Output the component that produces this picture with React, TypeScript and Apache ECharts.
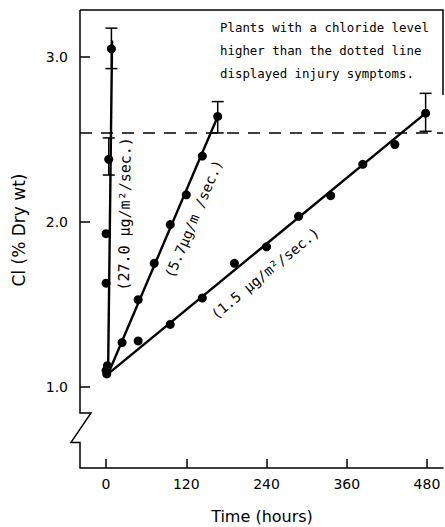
import React, { useEffect, useRef } from "react";
import * as echarts from "echarts";

// ---- axis ticks ----
const xTicks = [0, 120, 240, 360, 480];
const yTicks = [1.0, 2.0, 3.0];

// ---- 27.0 µg/m²/sec exposure ----
const hours27 = [2, 0, 0, 4, 8];
const cl27 = [1.13, 1.63, 1.93, 2.38, 3.05];

// ---- 5.7 µg/m²/sec exposure ----
const hours57 = [0, 24, 48, 72, 96, 120, 144, 167];
const cl57 = [1.1, 1.27, 1.53, 1.75, 1.985, 2.165, 2.4, 2.64];

// ---- 1.5 µg/m²/sec exposure ----
const hours15 = [1, 48, 96, 144, 192, 240, 288, 336, 384, 432, 478];
const cl15 = [1.08, 1.28, 1.38, 1.54, 1.75, 1.85, 2.035, 2.16, 2.35, 2.47, 2.66];

// ---- fitted lines (start / end) ----
const fit27Hours = [3, 9];
const fit27Cl = [1.08, 3.1];
const fit57Hours = [3, 167];
const fit57Cl = [1.08, 2.64];
const fit15Hours = [3, 478];
const fit15Cl = [1.08, 2.66];

// ---- error bars ----
const errHours = [8, 4, 167, 478];
const errLow = [2.93, 2.285, 2.54, 2.55];
const errHigh = [3.175, 2.51, 2.73, 2.78];

// ---- injury threshold ----
const injuryLevel = 2.535;

// ---- texts ----
const rateLabels = ["(27.0 µg/m²/sec.)", "(5.7µg/m /sec.)", "(1.5 µg/m²/sec.)"];
const noteLines = [
  "Plants with a chloride level",
  "higher than the dotted line",
  "displayed injury symptoms.",
];
const xTitle = "Time (hours)";
const yTitle = "Cl (% Dry wt)";

// axis extents
const xMin = -39;
const xMax = 504;
const yMin = 0.51;
const yMax = 3.285;

const zip = (a: number[], b: number[]) => a.map((v, i) => [v, b[i]]);

export default function App() {
  const ref = useRef<HTMLDivElement>(null);
  useEffect(() => {
    if (!ref.current) return;
    const chart = echarts.init(ref.current, null, { renderer: "svg" });
    const black = "#000";
    const tickFont = "DejaVu Sans";
    const scatterBase = {
      type: "scatter",
      symbol: "circle",
      symbolSize: 9,
      itemStyle: { color: black, opacity: 1 },
      z: 5,
    };
    const lineBase = {
      type: "line",
      symbol: "none",
      lineStyle: { color: black, width: 2.4 },
      z: 3,
    };
    chart.setOption({
      animation: false,
      grid: { left: 80, right: 2, top: 10, bottom: 59, containLabel: false, outerBoundsMode: "none" },
      xAxis: {
        type: "value",
        min: xMin,
        max: xMax,
        axisLine: { show: true, onZero: false, lineStyle: { color: black, width: 1.5 } },
        axisTick: {
          show: true,
          inside: true,
          length: 9,
          customValues: xTicks,
          lineStyle: { color: black, width: 1.5 },
        },
        axisLabel: {
          customValues: xTicks,
          margin: 9,
          color: black,
          fontSize: 14,
          fontFamily: tickFont,
        },
        splitLine: { show: false },
      },
      yAxis: {
        type: "value",
        min: yMin,
        max: yMax,
        axisLine: { show: false, onZero: false },
        axisTick: {
          show: true,
          inside: true,
          length: 10,
          customValues: yTicks,
          lineStyle: { color: black, width: 1.5 },
        },
        axisLabel: {
          customValues: yTicks,
          formatter: (v: number) => v.toFixed(1),
          margin: 12,
          color: black,
          fontSize: 14,
          fontFamily: tickFont,
        },
        splitLine: { show: false },
      },
      series: [
        { ...lineBase, name: "fit27", data: zip(fit27Hours, fit27Cl) },
        { ...lineBase, name: "fit57", data: zip(fit57Hours, fit57Cl) },
        { ...lineBase, name: "fit15", data: zip(fit15Hours, fit15Cl) },
        { ...scatterBase, name: "27.0", data: zip(hours27, cl27) },
        { ...scatterBase, name: "5.7", data: zip(hours57, cl57) },
        { ...scatterBase, name: "1.5", data: zip(hours15, cl15) },
        {
          type: "line",
          name: "threshold",
          data: [],
          markLine: {
            symbol: "none",
            silent: true,
            label: { show: false },
            lineStyle: { color: black, width: 1.5, type: [12, 9] },
            data: [{ yAxis: injuryLevel }],
          },
        },
        {
          type: "custom",
          name: "error",
          z: 4,
          data: errHours.map((h, i) => [h, errLow[i], errHigh[i]]),
          encode: { x: 0, y: [1, 2] },
          renderItem: (params: any, api: any) => {
            const x = api.value(0);
            const lo = api.coord([x, api.value(1)]);
            const hi = api.coord([x, api.value(2)]);
            const w = 6;
            const st = { stroke: black, lineWidth: 1.5 };
            return {
              type: "group",
              children: [
                { type: "line", shape: { x1: lo[0], y1: lo[1], x2: hi[0], y2: hi[1] }, style: st },
                { type: "line", shape: { x1: lo[0] - w, y1: lo[1], x2: lo[0] + w, y2: lo[1] }, style: st },
                { type: "line", shape: { x1: hi[0] - w, y1: hi[1], x2: hi[0] + w, y2: hi[1] }, style: st },
              ],
            };
          },
        },
      ],
    });

    const px = (x: number, y: number) => chart.convertToPixel({ gridIndex: 0 }, [x, y]) as number[];

    // y axis with break
    const top = px(xMin, yMax);
    const bot = px(xMin, yMin);
    const bTop = px(xMin, 0.844);
    const bBot = px(xMin, 0.665);
    const ax = top[0];
    const right = px(xMax, yMax);
    const rightEnd = px(xMax, 2.77);

    const angleOf = (h: number[], c: number[]) => {
      const a = px(h[0], c[0]);
      const b = px(h[1], c[1]);
      return Math.atan2(a[1] - b[1], b[0] - a[0]);
    };
    const labelPos = [
      { p: px(28, 2.05), r: angleOf(fit27Hours, fit27Cl), size: 15 },
      { p: px(131, 2.02), r: angleOf(fit57Hours, fit57Cl), size: 14 },
      { p: px(238, 1.69), r: angleOf(fit15Hours, fit15Cl), size: 14 },
    ];
    const mono = "DejaVu Sans Mono";
    const graphic: any[] = [
      {
        type: "polyline",
        shape: {
          points: [
            [ax, top[1]],
            [ax, bTop[1]],
            [ax + 11, bTop[1]],
            [ax - 9, bBot[1]],
            [ax, bBot[1]],
            [ax, bot[1]],
          ],
        },
        style: { stroke: black, lineWidth: 1.5, fill: "none" },
      },
      {
        type: "polyline",
        shape: { points: [[ax, top[1]], [right[0], right[1]], [rightEnd[0], rightEnd[1]]] },
        style: { stroke: black, lineWidth: 1.5, fill: "none" },
      },
      ...rateLabels.map((t, i) => ({
        type: "text",
        x: labelPos[i].p[0],
        y: labelPos[i].p[1],
        rotation: labelPos[i].r,
        style: {
          text: t,
          font: `${labelPos[i].size}px '${mono}'`,
          fill: black,
          align: "center",
          verticalAlign: "middle",
          textAlign: "center",
          textVerticalAlign: "middle",
        },
      })),
      ...noteLines.map((t, i) => ({
        type: "text",
        x: 220,
        y: 27 + i * 23,
        style: {
          text: t,
          font: `12.4px '${mono}'`,
          fill: black,
          align: "left",
          verticalAlign: "middle",
          textAlign: "left",
          textVerticalAlign: "middle",
        },
      })),
      {
        type: "text",
        x: 262,
        y: 516,
        style: {
          text: xTitle,
          font: `16px '${tickFont}'`,
          fill: black,
          align: "center",
          verticalAlign: "middle",
          textAlign: "center",
          textVerticalAlign: "middle",
        },
      },
      {
        type: "text",
        x: 19,
        y: 230,
        rotation: Math.PI / 2,
        style: {
          text: yTitle,
          font: `17px '${tickFont}'`,
          fill: black,
          align: "center",
          verticalAlign: "middle",
          textAlign: "center",
          textVerticalAlign: "middle",
        },
      },
    ];
    chart.setOption({ graphic });
    return () => chart.dispose();
  }, []);
  return (
    <div
      ref={ref}
      style={{ position: "absolute", left: 0, top: 0, width: 445, height: 527, background: "#fff" }}
    />
  );
}
